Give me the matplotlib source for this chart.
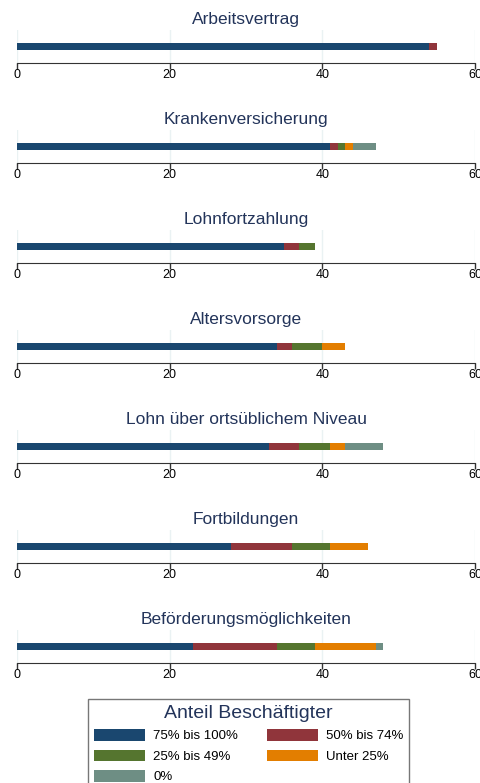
import matplotlib.pyplot as plt
from matplotlib.patches import Patch

plt.rcParams['font.family'] = ['Liberation Sans', 'DejaVu Sans']

# Panels (one stacked bar each)
titles = ['Arbeitsvertrag', 'Krankenversicherung', 'Lohnfortzahlung',
          'Altersvorsorge', 'Lohn über ortsüblichem Niveau',
          'Fortbildungen', 'Beförderungsmöglichkeiten']

# Shares of employees, segment by segment
s_75_100 = [54, 41, 35, 34, 33, 28, 23]
s_50_74 = [1, 1, 2, 2, 4, 8, 11]
s_25_49 = [0, 1, 2, 4, 4, 5, 5]
s_unter25 = [0, 1, 0, 3, 2, 5, 8]
s_0 = [0, 3, 0, 0, 5, 0, 1]

labels = ['75% bis 100%', '50% bis 74%', '25% bis 49%', 'Unter 25%', '0%']
colors = ['#1a476f', '#90353b', '#55752f', '#e37e00', '#6e8e84']
series = [s_75_100, s_50_74, s_25_49, s_unter25, s_0]

W, H = 480, 783
fig = plt.figure(figsize=(W / 100, H / 100), dpi=100)

x0, x1 = 17, 475
for i, title in enumerate(titles):
    bottom_px = 63 + 100 * i
    ax = fig.add_axes([x0 / W, 1 - bottom_px / H, (x1 - x0) / W, 33 / H])
    left = 0
    for vals, c in zip(series, colors):
        v = vals[i]
        if v > 0:
            ax.barh(0.5, v, left=left, height=0.19, color=c, edgecolor='none')
        left += v
    ax.set_xlim(0, 60)
    ax.set_ylim(0, 1)
    ax.set_xticks([0, 20, 40, 60])
    ax.grid(axis='x', color='#eaf2f3', linewidth=1)
    ax.set_axisbelow(True)
    ax.set_yticks([])
    for s in ['left', 'right', 'top']:
        ax.spines[s].set_visible(False)
    ax.spines['bottom'].set_color('#333333')
    ax.tick_params(axis='x', length=4, width=1, color='#333333', labelsize=9, pad=0)
    ax.set_title(title, fontsize=12.5, color='#23345a', pad=4)

handles = [Patch(facecolor=c, edgecolor='none') for c in colors]
order = [0, 2, 4, 1, 3]
leg = fig.legend([handles[k] for k in order], [labels[k] for k in order],
                 loc='upper left', bbox_to_anchor=(88 / W, 1 - 699 / H),
                 ncol=2, fontsize=9.5, title='Anteil Beschäftigter',
                 title_fontsize=14, handlelength=3.9, handleheight=0.95,
                 handletextpad=0.6, columnspacing=2.15, labelspacing=0.55,
                 borderpad=0.45, borderaxespad=0, fancybox=False, frameon=True)
leg.get_frame().set_edgecolor('#555555')
leg.get_frame().set_linewidth(1)
leg.get_title().set_color('#23345a')

fig.savefig('out.png', dpi=100)
